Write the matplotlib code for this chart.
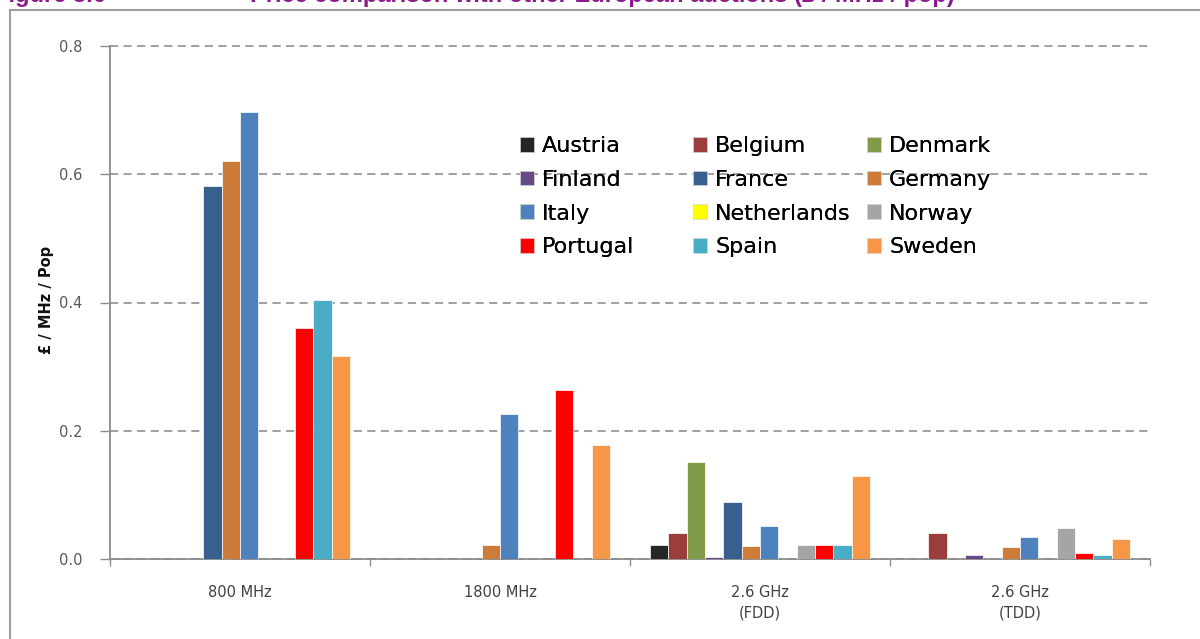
import matplotlib
matplotlib.use("Agg")
import matplotlib.pyplot as plt
import matplotlib.patches as mpatches
from matplotlib.lines import Line2D
import numpy as np

# data (GBP / MHz / pop)
bands = ["800 MHz", "1800 MHz", "2.6 GHz\n(FDD)", "2.6 GHz\n(TDD)"]
countries = ["Austria", "Belgium", "Denmark", "Finland", "France", "Germany",
             "Italy", "Netherlands", "Norway", "Portugal", "Spain", "Sweden"]
austria = [0.0, 0.0, 0.022, 0.0]
belgium = [0.0, 0.0, 0.040, 0.041]
denmark = [0.0, 0.0, 0.151, 0.0]
finland = [0.0, 0.0, 0.003, 0.006]
france = [0.581, 0.0, 0.089, 0.0]
germany = [0.621, 0.022, 0.020, 0.018]
italy = [0.697, 0.226, 0.052, 0.035]
netherlands = [0.0, 0.0, 0.0, 0.0]
norway = [0.0, 0.0, 0.022, 0.048]
portugal = [0.360, 0.263, 0.022, 0.009]
spain = [0.404, 0.0, 0.022, 0.006]
sweden = [0.317, 0.178, 0.130, 0.031]
values = [austria, belgium, denmark, finland, france, germany,
          italy, netherlands, norway, portugal, spain, sweden]
colors = ["#262626", "#9B3E3B", "#7F9A48", "#664A85", "#37608F", "#CC7B38",
          "#4F81BD", "#FFFF00", "#A5A5A5", "#FF0000", "#4BACC6", "#F79646"]
yticks = [0.0, 0.2, 0.4, 0.6, 0.8]

W, H = 1200, 639
fig = plt.figure(figsize=(W / 100, H / 100), dpi=100)
ax = fig.add_axes([110 / W, (H - 559) / H, 1040 / W, 513 / H])

x = np.arange(len(bands))
w = (220 / 260) / len(countries)
for i, (name, vals) in enumerate(zip(countries, values)):
    ax.bar(x + (i - 5.5) * w, vals, width=w, color=colors[i],
           edgecolor="white", linewidth=0.5, label=name, zorder=3)

ax.set_xlim(-0.5, 3.5)
ax.set_ylim(0, 0.8)
ax.set_yticks(yticks)
ax.set_yticklabels(["%.1f" % v for v in yticks])
ax.set_xticks(x)
ax.set_xticklabels(bands)
for lab in ax.get_xticklabels():
    lab.set_linespacing(1.45)
ax.set_xticks(np.arange(-0.5, 4, 1), minor=True)
ax.tick_params(axis="x", which="major", length=0, pad=19, labelsize=10.5,
               labelcolor="#404040")
ax.tick_params(axis="x", which="minor", length=5, width=1, color="#8c8c8c",
               direction="out")
ax.tick_params(axis="y", length=7, width=1, color="#8c8c8c", direction="out",
               labelsize=10.5, labelcolor="#595959", pad=13)

ax.yaxis.grid(True, color="#999999", linestyle=(0, (4.5, 3)), linewidth=1.3)
for gl in ax.get_ygridlines():
    gl.set_clip_on(False)
ax.set_axisbelow(True)

for s in ["top", "right"]:
    ax.spines[s].set_visible(False)
for s in ["left", "bottom"]:
    ax.spines[s].set_color("#8c8c8c")
    ax.spines[s].set_linewidth(1.3)

fig.text(46 / W, 1 - 300 / H, "£ / MHz / Pop", rotation=90, ha="center",
         va="center", fontsize=10.5, fontweight="bold", color="#111111")

# legend laid out row by row in three columns, like the reference
handles = [mpatches.Patch(facecolor=c, edgecolor="#dddddd", linewidth=0.5)
           for c in colors]
col_x = [520, 693, 867]
for col in range(3):
    idx = [col + 3 * r for r in range(4)]
    leg = fig.legend([handles[k] for k in idx], [countries[k] for k in idx],
                     loc="upper left", bbox_to_anchor=(col_x[col] / W, 1 - 136 / H),
                     bbox_transform=fig.transFigure, frameon=False,
                     fontsize=16, borderpad=0, borderaxespad=0,
                     handlelength=0.65, handleheight=0.65, handletextpad=0.35,
                     labelspacing=0.62)
    fig.add_artist(leg)

# outer frame and the clipped caption above it
fig.add_artist(Line2D([9.5 / W, 9.5 / W], [0, 1 - 9.5 / H], color="#a0a0a0",
                      linewidth=1.5, transform=fig.transFigure))
fig.add_artist(Line2D([9.5 / W, 1.0], [1 - 9.5 / H, 1 - 9.5 / H],
                      color="#a0a0a0", linewidth=1.5, transform=fig.transFigure))
fig.text(-6 / W, 1 - 2 / H, "Figure 3.6", ha="left", va="baseline",
         fontsize=17, fontweight="bold", color="#8B1A8B",
         family=["Liberation Sans", "DejaVu Sans"])
fig.text(955 / W, 1 - 2 / H,
         "Price comparison with other European auctions (£ / MHz / pop)",
         ha="right", va="baseline", fontsize=17, fontweight="bold",
         color="#8B1A8B", family=["Liberation Sans", "DejaVu Sans"])

fig.savefig("out.png", dpi=100)
